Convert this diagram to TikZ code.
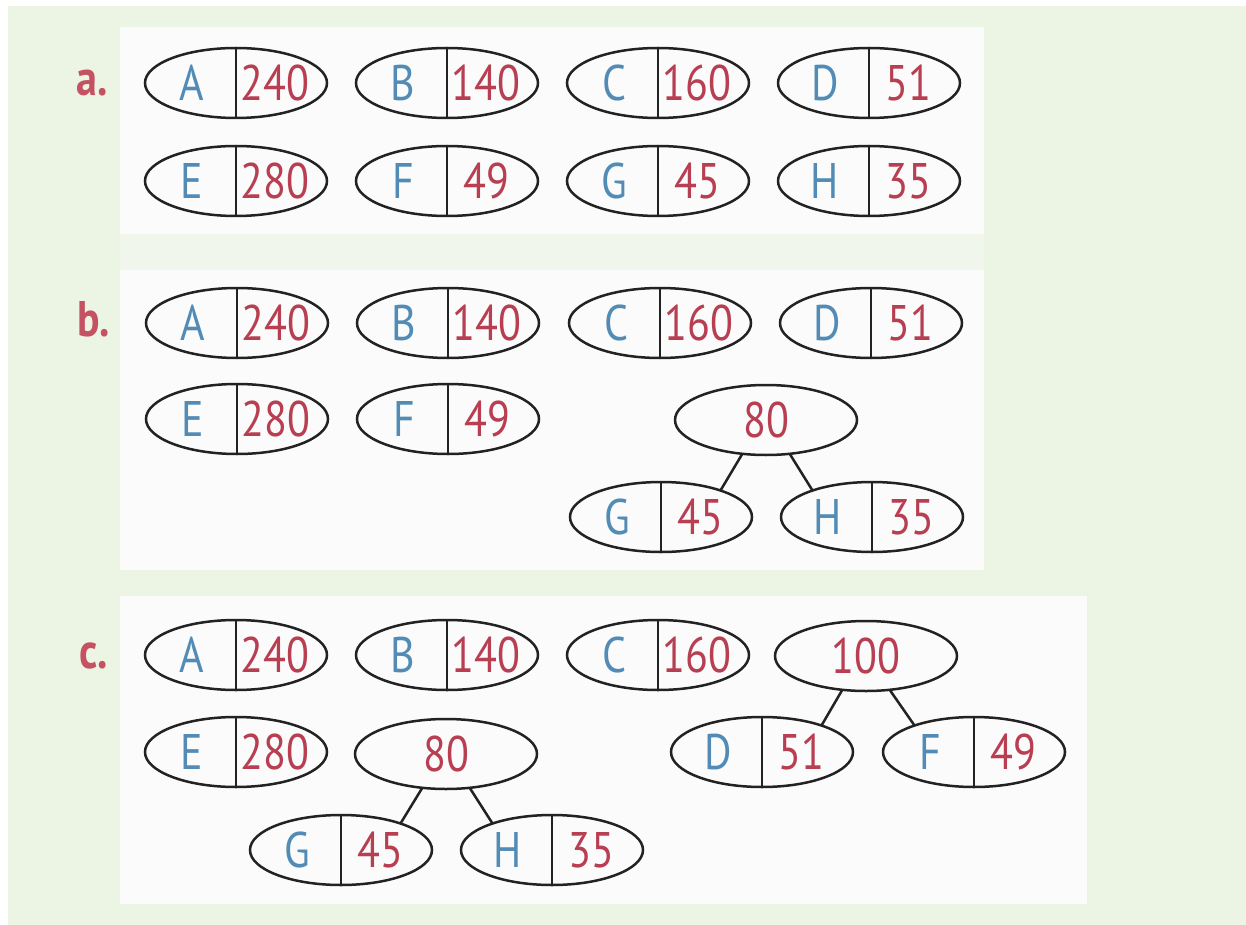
\documentclass[tikz,border=0pt]{standalone}
\usepackage{fontspec}
\setmainfont{PT Sans}[FakeStretch=0.84]
\usetikzlibrary{shapes.geometric}
\definecolor{bggreen}{RGB}{236,245,227}
\definecolor{bandgreen}{RGB}{240,246,236}
\definecolor{panelwhite}{RGB}{250,251,250}
\definecolor{letblue}{RGB}{82,140,182}
\definecolor{numred}{RGB}{184,62,82}
\definecolor{labred}{RGB}{196,82,98}
\definecolor{inkline}{RGB}{34,34,34}
\tikzset{
  pairell/.style={ellipse, draw=inkline, line width=2.5pt, minimum width=182pt, minimum height=70pt, inner sep=0pt, outer sep=0pt, fill=panelwhite},
  divline/.style={draw=inkline, line width=2.2pt},
  conn/.style={draw=inkline, line width=2.5pt},
  lettxt/.style={anchor=base, inner sep=0pt, text=letblue, font=\fontsize{50pt}{60pt}\selectfont},
  numtxt/.style={anchor=base, inner sep=0pt, text=numred, font=\fontsize{50pt}{60pt}\selectfont},
  parttxt/.style={anchor=base, inner sep=0pt, text=labred, font=\fontsize{50pt}{60pt}\selectfont\bfseries},
}
\newcommand\pairnode[5]{%
  \node[pairell] (#1) at (#2,#3) {};
  \draw[divline] (#1.north) -- (#1.south);
  \node[lettxt] (#1-l) at ([shift={(-44,17.5)}]#1.center) {#4};
  \node[numtxt] (#1-n) at ([shift={(39,17.5)}]#1.center) {#5};
}
\newcommand\sumnode[4]{%
  \node[pairell] (#1) at (#2,#3) {};
  \node[numtxt] (#1-n) at ([shift={(0,17.5)}]#1.center) {#4};
}
\begin{document}
\begin{tikzpicture}[x=1pt,y=-1pt]
\useasboundingbox (0,0) rectangle (1246,925);
% background
\fill[bggreen] (0,0) rectangle (1246,925);
\fill[white] (0,0) rectangle (1246,6);
\fill[white] (0,0) rectangle (8,925);
\fill[panelwhite] (120,27) rectangle (984,234);
\fill[bandgreen] (120,234) rectangle (984,270);
\fill[panelwhite] (120,270) rectangle (984,570);
\fill[panelwhite] (120,596) rectangle (1087,904);

% ---- a ----
\node[parttxt] (la) at (92,96) {a.};
\pairnode{aA}{236}{83}{A}{240}
\pairnode{aB}{447}{83}{B}{140}
\pairnode{aC}{658}{83}{C}{160}
\pairnode{aD}{869}{83}{D}{51}
\pairnode{aE}{236}{181}{E}{280}
\pairnode{aF}{447}{181}{F}{49}
\pairnode{aG}{658}{181}{G}{45}
\pairnode{aH}{869}{181}{H}{35}

% ---- b ----
\node[parttxt] (lb) at (94,336) {b.};
\pairnode{bA}{237}{323}{A}{240}
\pairnode{bB}{448}{323}{B}{140}
\pairnode{bC}{660}{323}{C}{160}
\pairnode{bD}{871}{323}{D}{51}
\pairnode{bE}{237}{419}{E}{280}
\pairnode{bF}{448}{419}{F}{49}
\sumnode{bS}{766}{420}{80}
\pairnode{bG}{661}{517}{G}{45}
\pairnode{bH}{872}{517}{H}{35}
\draw[conn] (bS.235) -- (bG.24);
\draw[conn] (bS.305) -- (bH.156);

% ---- c ----
\node[parttxt] (lc) at (94,668) {c.};
\pairnode{cA}{236}{655}{A}{240}
\pairnode{cB}{447}{655}{B}{140}
\pairnode{cC}{658}{655}{C}{160}
\sumnode{cT}{866}{656}{100}
\pairnode{cE}{236}{752}{E}{280}
\sumnode{cS}{446}{754}{80}
\pairnode{cD}{762}{752}{D}{51}
\pairnode{cF}{974}{752}{F}{49}
\pairnode{cG}{341}{850}{G}{45}
\pairnode{cH}{552}{850}{H}{35}
\draw[conn] (cT.235) -- (cD.24);
\draw[conn] (cT.305) -- (cF.156);
\draw[conn] (cS.235) -- (cG.24);
\draw[conn] (cS.305) -- (cH.156);
\end{tikzpicture}
\end{document}
